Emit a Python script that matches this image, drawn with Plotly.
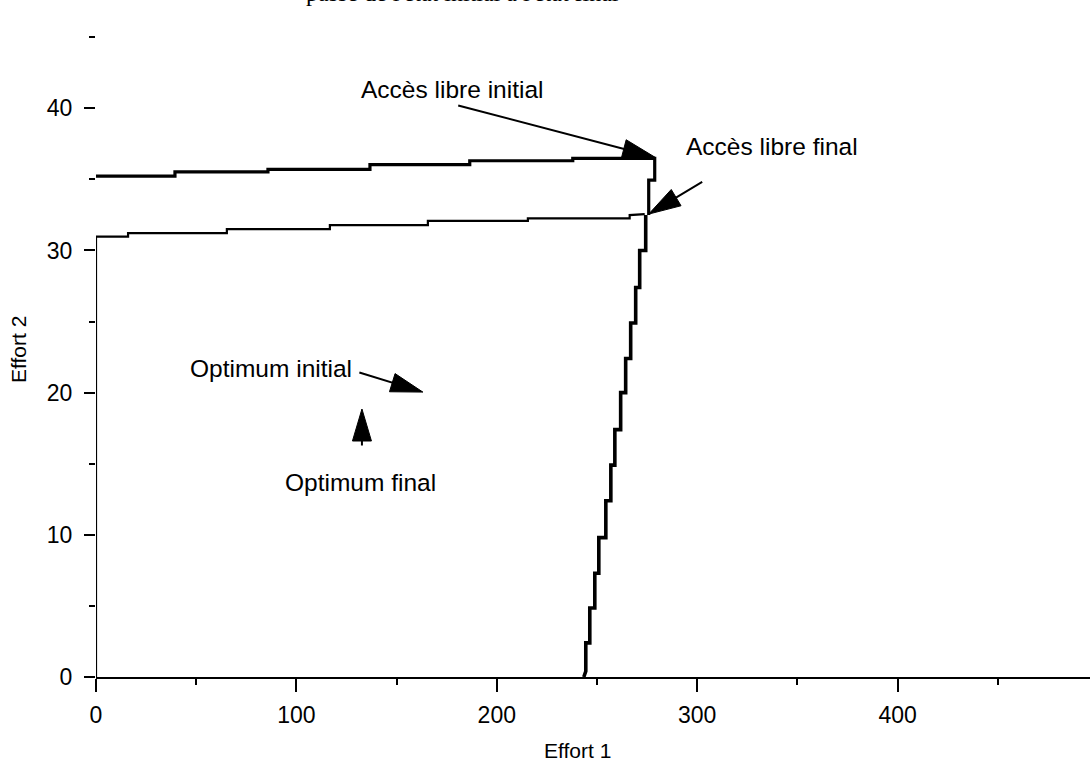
import plotly.graph_objects as go
import math

# ---------------- data ----------------
# Upper frontier: "Accès libre initial" (horizontal part, then down to the steep part)
upper_x = [0, 39.4, 39.4, 85.8, 85.8, 136.7, 136.7, 186.5, 186.5, 237.9, 237.9, 278.8,
           278.8, 275.8, 275.8]
upper_y = [35.23, 35.23, 35.53, 35.53, 35.70, 35.70, 36.04, 36.04, 36.31, 36.31, 36.48, 36.48,
           34.95, 34.95, 32.5]

# Steep frontier, staircase from top to bottom
steep_x = [274.3, 274.3, 271.3, 271.3, 269.3, 269.3, 266.8, 266.8, 264.3, 264.3, 261.8, 261.8,
           258.9, 258.9, 256.9, 256.9, 254.4, 254.4, 250.9, 250.9, 248.9, 248.9, 246.4, 246.4,
           244.4, 244.4, 243.4]
steep_y = [32.5, 30.0, 30.0, 27.4, 27.4, 24.9, 24.9, 22.4, 22.4, 20.0, 20.0, 17.4,
           17.4, 14.9, 14.9, 12.4, 12.4, 9.8, 9.8, 7.3, 7.3, 4.85, 4.85, 2.4,
           2.4, 0.4, 0.0]

# Lower frontier: "Accès libre final"
lower_x = [0, 0, 16.0, 16.0, 65.3, 65.3, 116.7, 116.7, 165.6, 165.6, 215.5, 215.5, 266.3, 266.3, 273.8]
lower_y = [0, 30.98, 30.98, 31.22, 31.22, 31.50, 31.50, 31.78, 31.78, 32.08, 32.08, 32.26, 32.26, 32.49, 32.56]

x_ticks = [0, 100, 200, 300, 400]
y_ticks = [0, 10, 20, 30, 40]

# annotations: label text, label position, arrow tip (data), arrow tail offset (px)
labels = ["Accès libre initial", "Accès libre final", "Optimum initial", "Optimum final"]
label_x = [177.6, 337.2, 87.3, 132.2]
label_y = [41.3, 37.3, 21.7, 13.7]
tip_x = [278.8, 275.8, 163.1, 132.7]
tip_y = [36.57, 32.56, 20.04, 18.85]
tail_ax = [-198, 55, -65, 0]
tail_ay = [-52, -33, -20, 38]

title_text = "passé de l'état initial à l'état final"

# ---------------- figure ----------------
fig = go.Figure()
fig.add_trace(go.Scatter(x=lower_x, y=lower_y, mode="lines",
                         line=dict(color="black", width=2.2), hoverinfo="skip"))
fig.add_trace(go.Scatter(x=upper_x, y=upper_y, mode="lines",
                         line=dict(color="black", width=3.2), hoverinfo="skip"))
fig.add_trace(go.Scatter(x=steep_x, y=steep_y, mode="lines",
                         line=dict(color="black", width=3.6), hoverinfo="skip"))

FONT = "Liberation Sans, Arial, sans-serif"
annotations = []
shapes = []
HEAD_L = 32
HEAD_W = 9.5
for lab, lx, ly, tx, ty, ax, ay in zip(labels, label_x, label_y, tip_x, tip_y, tail_ax, tail_ay):
    annotations.append(dict(x=lx, y=ly, xref="x", yref="y", text=lab, showarrow=False,
                            font=dict(family=FONT, size=24.5, color="black")))
    # arrow shaft
    annotations.append(dict(x=tx, y=ty, xref="x", yref="y", text="", showarrow=True,
                            arrowhead=0, arrowwidth=2, arrowcolor="black",
                            ax=ax, ay=ay, standoff=10))
    # arrow head (pixel-sized triangle anchored at the tip)
    dx, dy = -ax, ay  # direction tail->tip in y-up pixel coords
    n = math.hypot(dx, dy)
    ux, uy = dx / n, dy / n
    px, py = -uy, ux
    bx, by = -HEAD_L * ux, -HEAD_L * uy
    c1 = (bx + HEAD_W * px, by + HEAD_W * py)
    c2 = (bx - HEAD_W * px, by - HEAD_W * py)
    path = f"M0,0 L{c1[0]:.2f},{c1[1]:.2f} L{c2[0]:.2f},{c2[1]:.2f} Z"
    shapes.append(dict(type="path", xref="x", yref="y", xsizemode="pixel", ysizemode="pixel",
                       xanchor=tx, yanchor=ty, path=path,
                       fillcolor="black", line=dict(color="black", width=1)))

# title (cut off at the top of the picture, as in the reference)
annotations.append(dict(x=183, y=1.0, xref="x", yref="paper", yshift=15,
                        text=title_text, showarrow=False, yanchor="bottom",
                        font=dict(family="Liberation Serif, Times New Roman, serif",
                                  size=24, color="black")))
# axis titles
annotations.append(dict(x=0, y=0.5, xref="paper", yref="paper", xshift=-78,
                        xanchor="center", yanchor="middle",
                        text="Effort 2", showarrow=False, textangle=-90,
                        font=dict(family=FONT, size=21, color="black")))
annotations.append(dict(x=240.4, y=0, xref="x", yref="paper", yshift=-73,
                        xanchor="center", yanchor="middle",
                        text="Effort 1", showarrow=False,
                        font=dict(family=FONT, size=21, color="black")))

fig.update_layout(
    width=1090, height=770,
    margin=dict(l=96, r=0, t=23, b=93),
    paper_bgcolor="white", plot_bgcolor="white",
    showlegend=False,
    annotations=annotations,
    shapes=shapes,
    xaxis=dict(range=[0, 496], tickvals=x_ticks, ticktext=[str(v) for v in x_ticks],
               ticks="outside", ticklen=13, tickwidth=1.5, tickcolor="black",
               showline=True, linecolor="black", linewidth=1.5,
               showgrid=False, zeroline=False,
               minor=dict(dtick=50, tick0=0, ticks="outside", ticklen=6, tickcolor="black",
                          tickwidth=1.5, showgrid=False),
               tickfont=dict(family=FONT, size=23, color="black"),
               ticklabelstandoff=4),
    yaxis=dict(range=[0, 46], tickvals=y_ticks, ticktext=[str(v) for v in y_ticks],
               ticks="outside", ticklen=11, tickwidth=1.5, tickcolor="black",
               showline=False, showgrid=False, zeroline=False,
               minor=dict(dtick=5, tick0=0, ticks="outside", ticklen=6, tickcolor="black",
                          tickwidth=1.5, showgrid=False),
               tickfont=dict(family=FONT, size=23, color="black"),
               ticklabelstandoff=7),
)

fig.write_html("out.html", config={"displayModeBar": False},
               post_script="document.body.style.margin='0';document.body.style.overflow='hidden';")
